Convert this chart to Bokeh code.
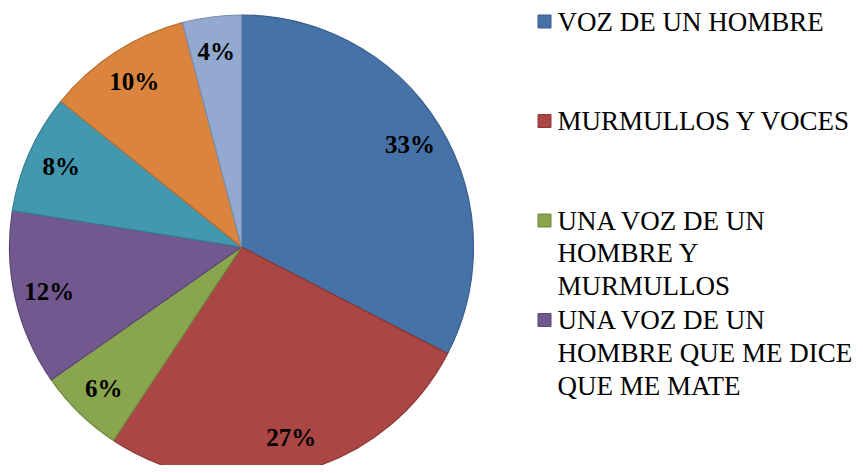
import math
from bokeh.plotting import figure
from bokeh.models import ColumnDataSource, Range1d
from bokeh.core.properties import value
from bokeh.embed import file_html
from bokeh.resources import INLINE

# ---- data ----
categories = [
    "VOZ DE UN HOMBRE",
    "MURMULLOS Y VOCES",
    "UNA VOZ DE UN\nHOMBRE Y\nMURMULLOS",
    "UNA VOZ DE UN\nHOMBRE QUE ME DICE\nQUE ME MATE",
    "OTROS 1",
    "OTROS 2",
    "OTROS 3",
]
shares = [32.6, 26.7, 6.0, 12.2, 8.3, 10.1, 4.1]
pct_labels = ["33%", "27%", "6%", "12%", "8%", "10%", "4%"]
colors = ["#4572A7", "#AA4643", "#89A54E", "#71588F", "#4198AF", "#DB843D", "#93A9CF"]
edge_colors = ["#385D8A", "#8C3836", "#71893F", "#5C4776", "#357D91", "#B66D31", "#7A8DB0"]
visible_legend = 4

FONT = "Liberation Serif, Times New Roman, DejaVu Serif, serif"

# ---- layout ----
W, H = 855, 465
CX, CY, R = 241, H - 246.5, 232
LABEL_R = 0.85

p = figure(width=W, height=H, output_backend="svg", toolbar_location=None,
           x_range=Range1d(0, W), y_range=Range1d(0, H), min_border=0)
p.axis.visible = False
p.grid.visible = False
p.outline_line_color = None
p.background_fill_color = "white"
p.border_fill_color = "white"

total = sum(shares)
starts, ends, lx, ly = [], [], [], []
acc = 0.0
for s in shares:
    a0 = math.pi / 2 - 2 * math.pi * acc / total
    a1 = math.pi / 2 - 2 * math.pi * (acc + s) / total
    mid = (a0 + a1) / 2
    starts.append(a0)
    ends.append(a1)
    lx.append(CX + LABEL_R * R * math.cos(mid))
    ly.append(CY + LABEL_R * R * math.sin(mid))
    acc += s

src = ColumnDataSource(dict(start=starts, end=ends, color=colors, edge=edge_colors,
                            lx=lx, ly=ly, label=pct_labels))
p.wedge(x=CX, y=CY, radius=R, start_angle="start", end_angle="end", direction="clock",
        fill_color="color", line_color="edge", line_width=1.2, source=src)
p.text(x="lx", y="ly", text="label", source=src, text_font=value(FONT),
       text_font_style="bold", text_font_size="25px", text_align="center",
       text_baseline="middle", text_color="black")

# ---- legend (manual) ----
LEG_X, LEG_TOP, ENTRY_STEP, LINE_STEP = 544, H - 21, 99.5, 32.8
sq_x, sq_y, sq_c, sq_e = [], [], [], []
tx, ty, tt = [], [], []
for i in range(visible_legend):
    y0 = LEG_TOP - i * ENTRY_STEP
    sq_x.append(LEG_X)
    sq_y.append(y0)
    sq_c.append(colors[i])
    sq_e.append(edge_colors[i])
    for j, line in enumerate(categories[i].split("\n")):
        tx.append(LEG_X + 13)
        ty.append(y0 - j * LINE_STEP)
        tt.append(line)

p.rect(x=sq_x, y=sq_y, width=13, height=13, fill_color=sq_c, line_color=sq_e, line_width=1)
p.text(x=tx, y=ty, text=tt, text_font=value("Liberation Serif"), text_font_size="27px",
       text_align="left", text_baseline="middle", text_color="black")

open("out.html", "w").write(file_html(p, INLINE))
